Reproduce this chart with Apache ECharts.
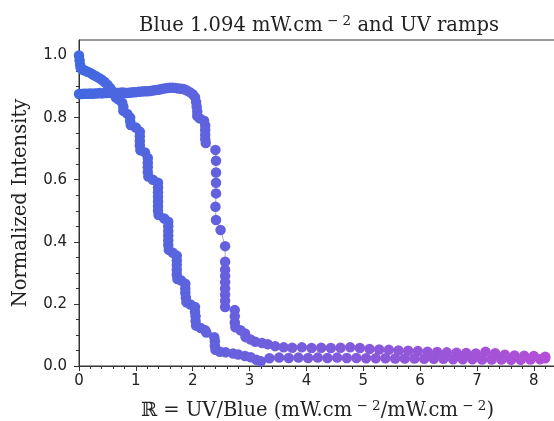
<!DOCTYPE html>
<html><head><meta charset="utf-8">
<script src="https://cdn.jsdelivr.net/npm/echarts@6/dist/echarts.min.js"></script>
<style>html,body{margin:0;padding:0;background:#fff}#c{width:554px;height:421px}</style>
</head><body><div id="c"></div>
<script>
// Branch A: starts flat near 0.88, drops around R ~ 2.4
const xA = [0.00,0.04,0.08,0.12,0.16,0.20,0.24,0.28,0.32,0.36,0.40,0.44,0.48,0.52,0.56,0.60,0.64,0.68,0.72,0.76,0.80,0.84,0.88,0.92,0.96,1.00,1.05,1.10,1.15,1.20,1.25,1.30,1.35,1.40,1.45,1.50,1.55,1.60,1.65,1.70,1.75,1.80,1.85,1.90,1.95,2.00,2.04,2.06,2.07,2.08,2.08,2.12,2.20,2.22,2.22,2.22,2.22,2.23,2.40,2.41,2.41,2.41,2.41,2.40,2.41,2.49,2.57,2.57,2.57,2.57,2.57,2.57,2.57,2.57,2.57,2.74,2.74,2.74,2.75,2.84,2.92,2.93,3.02,3.10,3.22,3.32,3.45,3.60,3.75,3.92,4.09,4.26,4.43,4.60,4.77,4.94,5.11,5.28,5.45,5.62,5.79,5.96,6.13,6.30,6.47,6.64,6.81,6.98,7.15,7.32,7.49,7.66,7.83,8.00,8.20];
const yA = [0.876,0.876,0.877,0.877,0.877,0.878,0.877,0.878,0.878,0.879,0.878,0.879,0.879,0.880,0.879,0.880,0.880,0.879,0.880,0.881,0.880,0.879,0.880,0.881,0.882,0.882,0.883,0.884,0.885,0.885,0.886,0.887,0.889,0.890,0.892,0.894,0.895,0.896,0.896,0.895,0.894,0.893,0.891,0.887,0.882,0.875,0.866,0.850,0.835,0.820,0.805,0.798,0.790,0.775,0.760,0.745,0.730,0.718,0.696,0.661,0.623,0.590,0.556,0.513,0.470,0.438,0.386,0.336,0.310,0.290,0.270,0.250,0.230,0.210,0.190,0.180,0.160,0.140,0.125,0.115,0.105,0.093,0.085,0.078,0.074,0.070,0.064,0.060,0.059,0.060,0.058,0.059,0.058,0.059,0.060,0.058,0.055,0.053,0.052,0.050,0.049,0.048,0.046,0.045,0.044,0.043,0.042,0.040,0.046,0.041,0.036,0.034,0.033,0.032,0.030];
// Branch B: starts at 1.0, drops earlier
const xB = [0.00,0.01,0.02,0.03,0.06,0.10,0.15,0.20,0.25,0.30,0.35,0.40,0.45,0.50,0.55,0.58,0.62,0.65,0.70,0.76,0.78,0.78,0.85,0.90,0.90,0.91,1.00,1.07,1.07,1.07,1.07,1.08,1.16,1.21,1.21,1.21,1.21,1.22,1.30,1.39,1.39,1.39,1.39,1.39,1.39,1.39,1.40,1.50,1.57,1.57,1.57,1.57,1.57,1.57,1.58,1.65,1.72,1.72,1.72,1.72,1.72,1.73,1.80,1.87,1.87,1.87,1.88,1.89,1.96,2.04,2.04,2.05,2.05,2.06,2.14,2.22,2.24,2.38,2.39,2.39,2.40,2.48,2.58,2.71,2.80,2.92,3.02,3.12,3.20,3.35,3.52,3.69,3.86,4.03,4.20,4.37,4.54,4.71,4.88,5.05,5.22,5.39,5.56,5.73,5.90,6.07,6.24,6.41,6.58,6.75,6.92,7.09,7.26,7.43,7.60,7.77,7.94,8.11,8.20];
const yB = [1.000,0.985,0.970,0.960,0.955,0.952,0.948,0.944,0.938,0.933,0.928,0.922,0.915,0.906,0.895,0.885,0.875,0.865,0.858,0.848,0.835,0.822,0.812,0.800,0.788,0.776,0.768,0.755,0.740,0.725,0.710,0.695,0.688,0.670,0.655,0.640,0.625,0.610,0.600,0.590,0.575,0.560,0.545,0.530,0.515,0.500,0.486,0.475,0.465,0.450,0.435,0.420,0.405,0.390,0.374,0.365,0.355,0.340,0.325,0.310,0.295,0.280,0.275,0.265,0.250,0.235,0.220,0.205,0.198,0.190,0.175,0.160,0.145,0.130,0.122,0.115,0.108,0.093,0.080,0.065,0.052,0.046,0.044,0.040,0.037,0.032,0.028,0.020,0.015,0.025,0.027,0.026,0.027,0.026,0.027,0.026,0.027,0.026,0.026,0.025,0.025,0.025,0.024,0.024,0.024,0.023,0.023,0.023,0.022,0.022,0.022,0.021,0.021,0.021,0.020,0.020,0.021,0.022,0.025];
const xTickValues = [0,1,2,3,4,5,6,7,8];
const yTickLabels = ['0.0','0.2','0.4','0.6','0.8','1.0'];

const W = 554, H = 421, LEFT = 79, TOP = 40, BOTTOM = 55;
const XMAX = 8.39, YMAX = 1.05;
const plotW = W - LEFT + 2, plotH = H - TOP - BOTTOM;
const pxX = plotW / XMAX;
const TOP1 = TOP + plotH * (YMAX - 1) / YMAX;
const AX = '#333';
const serif = 'DejaVu Serif', sans = 'DejaVu Sans';
const richSerif = {
  n: {fontFamily: serif, fontSize: 19.5, fontWeight: 'normal', color: '#222', lineHeight: 24},
  s: {fontFamily: serif, fontSize: 13.5, fontWeight: 'normal', color: '#222', lineHeight: 12, verticalAlign: 'top'}
};

const chart = echarts.init(document.getElementById('c'), null, {renderer: 'canvas'});
chart.setOption({
  backgroundColor: '#fff',
  animation: false,
  title: {
    text: '{n|Blue 1.094 mW.cm}{s| \u2212 2}{n| and UV ramps}',
    left: 314, top: 9, textAlign: 'center',
    textStyle: {fontWeight: 'normal', rich: richSerif}
  },
  grid: [
    {left: LEFT, width: plotW, top: TOP, height: plotH, outerBoundsMode: 'none', containLabel: false,
     show: true, borderColor: AX, borderWidth: 1, backgroundColor: 'transparent'},
    {left: LEFT, width: 9 * pxX, top: TOP1, height: TOP + plotH - TOP1, outerBoundsMode: 'none', containLabel: false, show: false}
  ],
  xAxis: [
    {gridIndex: 0, type: 'value', min: 0, max: XMAX,
     axisLine: {show: true, lineStyle: {color: AX}}, axisTick: {show: false}, axisLabel: {show: false},
     splitLine: {show: false},
     name: '{n|\u211D = UV/Blue (mW.cm}{s| \u2212 2}{n|/mW.cm}{s| \u2212 2}{n|)}',
     nameLocation: 'middle', nameGap: 33,
     nameTextStyle: {rich: richSerif}},
    {gridIndex: 1, type: 'value', min: 0, max: 9, interval: 1,
     axisLine: {show: false}, splitLine: {show: false},
     axisTick: {show: true, length: 5, lineStyle: {color: AX}},
     minorTick: {show: true, splitNumber: 5, length: 3, lineStyle: {color: AX}},
     axisLabel: {margin: 8, fontFamily: sans, fontSize: 15, color: '#222',
       formatter: v => xTickValues.includes(v) ? String(v) : ''}}
  ],
  yAxis: [
    {gridIndex: 0, type: 'value', min: 0, max: YMAX,
     axisLine: {show: true, lineStyle: {color: AX}}, axisTick: {show: false}, axisLabel: {show: false},
     splitLine: {show: false},
     name: 'Normalized Intensity', nameLocation: 'middle', nameGap: 48,
     nameTextStyle: {fontFamily: serif, fontSize: 19.5, color: '#222'}},
    {gridIndex: 1, type: 'value', min: 0, max: 1, interval: 0.2,
     axisLine: {show: false}, splitLine: {show: false},
     axisTick: {show: true, length: 5, lineStyle: {color: AX}},
     minorTick: {show: true, splitNumber: 4, length: 3, lineStyle: {color: AX}},
     axisLabel: {margin: 12, fontFamily: sans, fontSize: 15, color: '#222',
       formatter: v => yTickLabels[Math.round(v / 0.2)] || ''}}
  ],
  visualMap: {show: false, type: 'continuous', dimension: 0, min: 0, max: 8.3,
    seriesIndex: [2, 3], inRange: {color: ['#4169e1', '#b44fd6']}},
  series: [
    {type: 'line', xAxisIndex: 0, yAxisIndex: 0, showSymbol: false, symbol: 'none', z: 1,
     lineStyle: {color: '#999', width: 0.8}, data: xA.map((x, i) => [x, yA[i]])},
    {type: 'line', xAxisIndex: 0, yAxisIndex: 0, showSymbol: false, symbol: 'none', z: 1,
     lineStyle: {color: '#999', width: 0.8}, data: xB.map((x, i) => [x, yB[i]])},
    {type: 'scatter', xAxisIndex: 0, yAxisIndex: 0, symbolSize: 10.5, z: 2, clip: false,
     itemStyle: {opacity: 1}, data: xA.map((x, i) => [x, yA[i]])},
    {type: 'scatter', xAxisIndex: 0, yAxisIndex: 0, symbolSize: 10.5, z: 2, clip: false,
     itemStyle: {opacity: 1}, data: xB.map((x, i) => [x, yB[i]])}
  ]
});
</script></body></html>
